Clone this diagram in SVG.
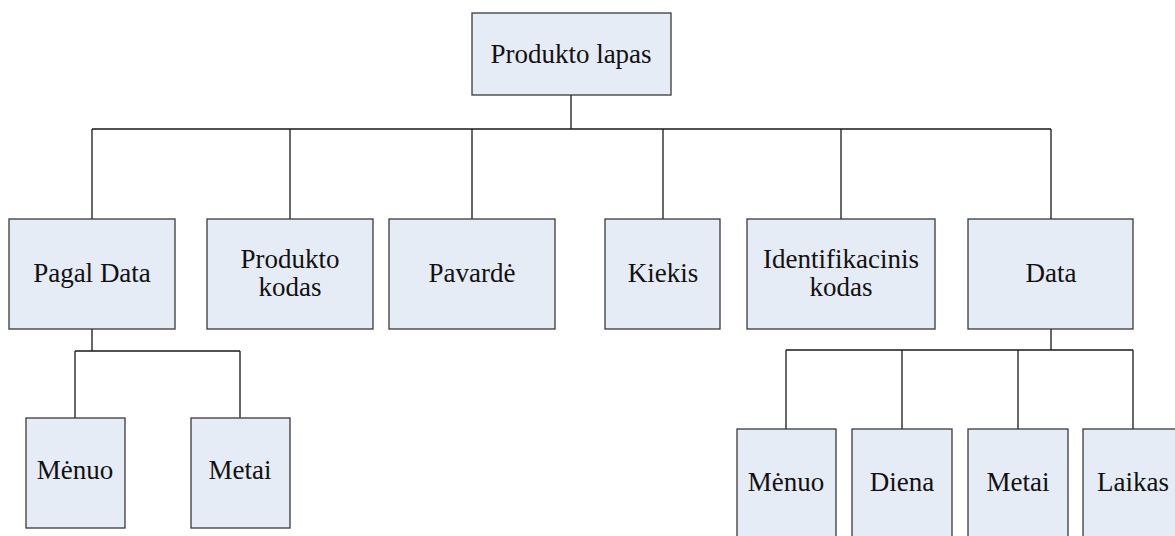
<svg xmlns="http://www.w3.org/2000/svg" width="1175" height="536" viewBox="0 0 1175 536">
<style>
.box{fill:#E6ECF6;stroke:#3a3a3a;stroke-width:1.3}
.ln{fill:none;stroke:#1a1a1a;stroke-width:1.3}
.t{font-family:"Liberation Serif","Times New Roman",serif;font-size:27px;fill:#111;text-anchor:middle}
</style>
<rect width="1175" height="536" fill="#fff"/>
<g id="connectors">
<path class="ln" d="M571 95V129M92 129H1051M92 129V219M290 129V219M472 129V219M663 129V219M841 129V219M1051 129V219"/>
<path class="ln" d="M92 329V351M75 351H240M75 351V418M240 351V418"/>
<path class="ln" d="M1051 329V350M786 350H1133M786 350V429M902 350V429M1018 350V429M1133 350V429"/>
</g>
<g id="n-produkto-lapas"><rect class="box" x="472" y="13" width="199" height="82"/><text class="t" x="571" y="63">Produkto lapas</text></g>
<g id="n-pagal-data"><rect class="box" x="9" y="219" width="166" height="110"/><text class="t" x="92" y="282">Pagal Data</text></g>
<g id="n-produkto-kodas"><rect class="box" x="207" y="219" width="166" height="110"/><text class="t" x="290" y="268">Produkto</text><text class="t" x="290" y="296">kodas</text></g>
<g id="n-pavarde"><rect class="box" x="389" y="219" width="166" height="110"/><text class="t" x="472" y="282">Pavardė</text></g>
<g id="n-kiekis"><rect class="box" x="605" y="219" width="115" height="110"/><text class="t" x="663" y="282">Kiekis</text></g>
<g id="n-identifikacinis"><rect class="box" x="747" y="219" width="188" height="110"/><text class="t" x="841" y="268">Identifikacinis</text><text class="t" x="841" y="296">kodas</text></g>
<g id="n-data"><rect class="box" x="968" y="219" width="165" height="110"/><text class="t" x="1051" y="282">Data</text></g>
<g id="n-menuo1"><rect class="box" x="26" y="418" width="99" height="110"/><text class="t" x="75" y="479">Mėnuo</text></g>
<g id="n-metai1"><rect class="box" x="191" y="418" width="99" height="110"/><text class="t" x="240" y="479">Metai</text></g>
<g id="n-menuo2"><rect class="box" x="737" y="429" width="99" height="115"/><text class="t" x="786" y="491">Mėnuo</text></g>
<g id="n-diena"><rect class="box" x="852" y="429" width="100" height="115"/><text class="t" x="902" y="491">Diena</text></g>
<g id="n-metai2"><rect class="box" x="968" y="429" width="100" height="115"/><text class="t" x="1018" y="491">Metai</text></g>
<g id="n-laikas"><rect class="box" x="1083" y="429" width="100" height="115"/><text class="t" x="1133" y="491">Laikas</text></g>
</svg>
